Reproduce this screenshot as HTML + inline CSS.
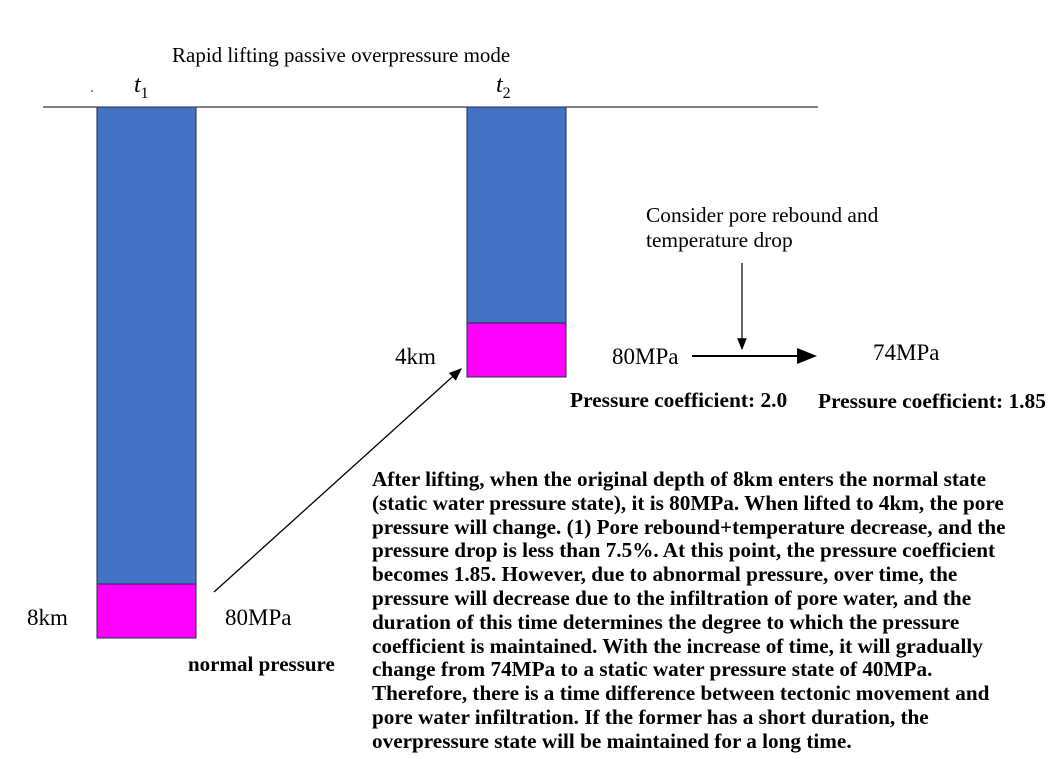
<!DOCTYPE html>
<html><head><meta charset="utf-8"><style>
body{margin:0;background:#fff;width:1062px;height:759px;overflow:hidden;position:relative;font-family:"Liberation Serif",serif;}
.t{position:absolute;white-space:nowrap;color:#000;}
.m{font-family:"Liberation Serif","Noto Serif CJK SC",serif;font-size:23px;line-height:26px;}
.b{font-weight:bold;}
</style></head><body>
<svg width="1062" height="759" style="position:absolute;left:0;top:0">
<defs><marker id="ah" markerWidth="10" markerHeight="8" refX="9" refY="4" orient="auto"><path d="M0,0 L10,4 L0,8 z" fill="#000"/></marker></defs>
<line x1="43" y1="107" x2="818" y2="107" stroke="#000" stroke-width="1"/>
<rect x="97" y="107" width="99" height="477" fill="#4472C4" stroke="#1f2a44"/>
<rect x="97" y="584" width="99" height="54" fill="#FF00FF" stroke="#1f2a44"/>
<rect x="467" y="107" width="99" height="216" fill="#4472C4" stroke="#1f2a44"/>
<rect x="467" y="323" width="99" height="54" fill="#FF00FF" stroke="#1f2a44"/>
<line x1="214" y1="592" x2="461" y2="369" stroke="#000" stroke-width="1.3" marker-end="url(#ah)"/>
<line x1="692" y1="356" x2="815" y2="356" stroke="#000" stroke-width="2" marker-end="url(#ah)"/>
<line x1="742" y1="263" x2="742" y2="349" stroke="#000" stroke-width="1.2" marker-end="url(#ah)"/>
<circle cx="92" cy="91" r="0.8" fill="#000"/>
</svg>
<div class="t" style="left:172px;top:43px;font-size:21px;line-height:24px">Rapid lifting passive overpressure mode</div>
<div class="t" style="left:134px;top:72px;font-size:24px;font-style:italic">t<sub style="font-style:normal;font-size:16px">1</sub></div>
<div class="t" style="left:496px;top:72px;font-size:24px;font-style:italic">t<sub style="font-style:normal;font-size:16px">2</sub></div>
<div class="t m" style="left:27px;top:605px">8km</div>
<div class="t m" style="left:225px;top:605px">80MPa</div>
<div class="t b" style="left:188px;top:652px;font-size:21px;line-height:24px">normal pressure</div>
<div class="t m" style="left:395px;top:344px">4km</div>
<div class="t m" style="left:612px;top:344px">80MPa</div>
<div class="t m" style="left:873px;top:340px">74MPa</div>
<div class="t" style="left:646px;top:203px;font-size:21.4px;line-height:25px">Consider pore rebound and<br>temperature drop</div>
<div class="t b" style="left:570px;top:388px;font-size:21.4px;line-height:24px">Pressure coefficient: 2.0</div>
<div class="t b" style="left:818px;top:389px;font-size:21.4px;line-height:24px">Pressure coefficient: 1.85</div>
<div class="t b" style="left:372px;top:468px;font-size:21.2px;line-height:23.8px">After lifting, when the original depth of 8km enters the normal state<br>(static water pressure state), it is 80MPa. When lifted to 4km, the pore<br>pressure will change. (1) Pore rebound+temperature decrease, and the<br>pressure drop is less than 7.5%. At this point, the pressure coefficient<br>becomes 1.85. However, due to abnormal pressure, over time, the<br>pressure will decrease due to the infiltration of pore water, and the<br>duration of this time determines the degree to which the pressure<br>coefficient is maintained. With the increase of time, it will gradually<br>change from 74MPa to a static water pressure state of 40MPa.<br>Therefore, there is a time difference between tectonic movement and<br>pore water infiltration. If the former has a short duration, the<br>overpressure state will be maintained for a long time.</div>
</body></html>
